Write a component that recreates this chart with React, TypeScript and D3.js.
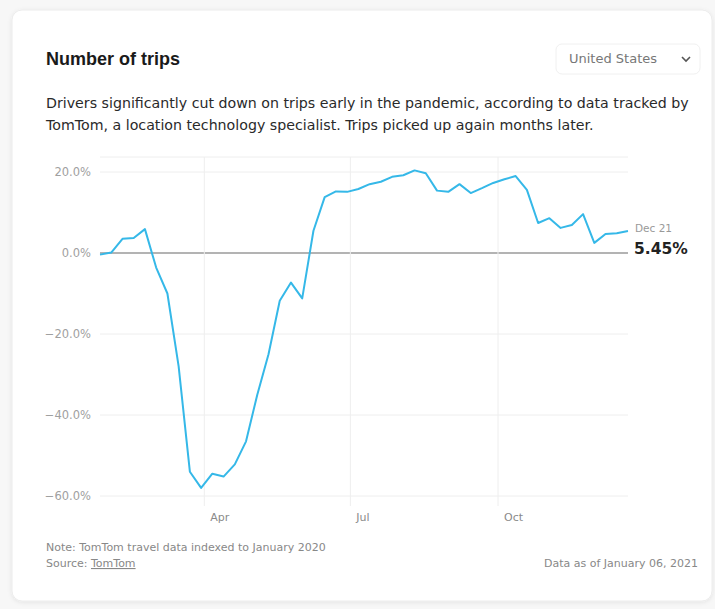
import React from "react";
import * as d3 from "d3";

const title = "Number of trips";
const subtitleLines = [
  "Drivers significantly cut down on trips early in the pandemic, according to data tracked by",
  "TomTom, a location technology specialist. Trips picked up again months later.",
];
const regionLabel = "United States";
const startDate = new Date(2020, 0, 27);
const weeklyValues = [
  -0.4, 0.1, 3.5, 3.7, 5.9, -3.6, -10.0, -28.0, -54.0, -58.0,
  -54.5, -55.2, -52.2, -46.5, -35.0, -25.0, -11.8, -7.3, -11.2, 5.5,
  13.8, 15.2, 15.1, 15.8, 17.0, 17.6, 18.8, 19.2, 20.4, 19.7,
  15.4, 15.1, 17.0, 14.8, 16.0, 17.3, 18.2, 19.0, 15.6, 7.4,
  8.6, 6.2, 6.9, 9.6, 2.5, 4.7, 4.9, 5.45,
];
const yTicks = [20, 0, -20, -40, -60];
const xTickMonths = [3, 6, 9];
const xTickLabels = ["Apr", "Jul", "Oct"];
const lastLabel = "Dec 21";
const noteText = "Note: TomTom travel data indexed to January 2020";
const sourcePrefix = "Source: ";
const sourceLink = "TomTom";
const asOfText = "Data as of January 06, 2021";

const titleFont = "'Liberation Sans', Arial, Helvetica, sans-serif";
const font = "'DejaVu Sans', Verdana, sans-serif";

export default function App() {
  const W = 715;
  const H = 609;
  const data = weeklyValues.map((v, i) => ({
    date: d3.timeDay.offset(startDate, i * 7),
    value: v,
  }));
  const last = data[data.length - 1];

  const x = d3.scaleTime().domain([data[0].date, last.date]).range([100, 628]);
  const y = d3.scaleLinear().domain([-60, 20]).range([496, 172]);

  const line = d3
    .line<{ date: Date; value: number }>()
    .x((d) => x(d.date))
    .y((d) => y(d.value));

  const fmt = d3.format(".1f");
  const plotTop = 157;
  const plotBottom = 506;

  return (
    <div style={{ position: "fixed", left: 0, top: 0, width: W, height: H, background: "#f7f7f7" }}>
      <svg width={W} height={H} style={{ display: "block" }}>
        <defs>
          <filter id="shadow" x="-5%" y="-5%" width="110%" height="110%">
            <feDropShadow dx="0" dy="1" stdDeviation="2" floodColor="#000" floodOpacity="0.08" />
          </filter>
        </defs>
        <rect x={12} y={10} width={700} height={591} rx={10} fill="#fff" stroke="#ececec" filter="url(#shadow)" />

        <text x={46} y={65} fontFamily={titleFont} fontWeight={700} fontSize={18} fill="#1a1a1a">
          {title}
        </text>

        <rect x={556} y={44} width={144} height={30} rx={6} fill="#fff" stroke="#f0f0f0" />
        <text x={569} y={63} fontFamily={font} fontSize={13} fill="#777">
          {regionLabel}
        </text>
        <path d="M682,57 L686,61 L690,57" fill="none" stroke="#555" strokeWidth={1.6} />

        {subtitleLines.map((s, i) => (
          <text key={i} x={46} y={108 + i * 22} fontFamily={font} fontSize={14.2} fill="#2a2a2a">
            {s}
          </text>
        ))}

        <line x1={100} x2={628} y1={plotTop} y2={plotTop} stroke="#eeeeee" />

        {yTicks.map((t) => (
          <g key={t}>
            <line
              x1={100}
              x2={628}
              y1={y(t)}
              y2={y(t)}
              stroke={t === 0 ? "#9a9a9a" : "#eeeeee"}
              strokeWidth={t === 0 ? 1.3 : 1}
            />
            <text
              x={91}
              y={y(t) + 4}
              textAnchor="end"
              fontFamily={font}
              fontSize={11.5}
              fill="#a0a0a0"
            >
              {fmt(t)}%
            </text>
          </g>
        ))}

        {xTickMonths.map((m, i) => {
          const xv = x(new Date(2020, m, 1));
          return (
            <g key={m}>
              <line x1={xv} x2={xv} y1={plotTop} y2={plotBottom} stroke="#eeeeee" />
              <text x={xv + 6} y={521} fontFamily={font} fontSize={11} fill="#8a8a8a">
                {xTickLabels[i]}
              </text>
            </g>
          );
        })}

        <path d={line(data) || ""} fill="none" stroke="#35b8e8" strokeWidth={2} strokeLinejoin="round" />

        <text x={635} y={232} fontFamily={font} fontSize={10.5} fill="#999">
          {lastLabel}
        </text>
        <text x={634} y={254} fontFamily={font} fontWeight={700} fontSize={15.5} fill="#222">
          {d3.format(".2f")(last.value)}%
        </text>

        <text x={46} y={551} fontFamily={font} fontSize={11} fill="#888">
          {noteText}
        </text>
        <text x={46} y={567} fontFamily={font} fontSize={11} fill="#888">
          {sourcePrefix}
          <tspan textDecoration="underline">{sourceLink}</tspan>
        </text>
        <text x={698} y={567} textAnchor="end" fontFamily={font} fontSize={11} fill="#888">
          {asOfText}
        </text>
      </svg>
    </div>
  );
}
